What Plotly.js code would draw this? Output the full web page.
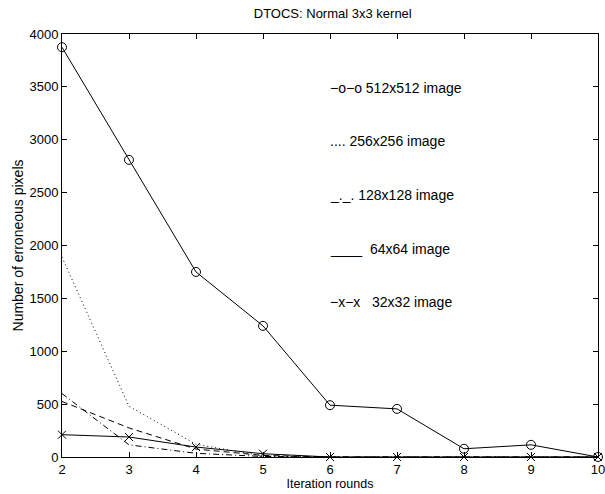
<!DOCTYPE html>
<html>
<head>
<meta charset="utf-8">
<script src="https://cdn.plot.ly/plotly-3.0.1.min.js"></script>
<style>
  html, body { margin: 0; padding: 0; background: #fff; }
  #chart { width: 605px; height: 494px; }
</style>
</head>
<body>
<div id="chart"></div>
<script>
// Iteration rounds on the x axis
const rounds = [2, 3, 4, 5, 6, 7, 8, 9, 10];

// Erroneous pixel counts per image size
const err512 = [3875, 2810, 1750, 1240, 490, 455, 78, 115, 0];
const err256 = [1890, 480, 120, 10, 0, 0, 0, 0, 0];
const err128 = [600, 115, 35, 5, 0, 0, 0, 0, 0];
const err64  = [525, 275, 75, 15, 0, 0, 0, 0, 0];
const err32  = [211, 189, 94, 31, 0, 0, 0, 0, 0];

// Legend lines written as plain text inside the plot
const legendLines = [
  "\u2212o\u2212o 512x512 image",
  ".... 256x256 image",
  "_._. 128x128 image",
  "____\u00a0 64x64 image",
  "\u2212x\u2212x\u00a0\u00a0 32x32 image"
];
const legendY = [0.872, 0.747, 0.620, 0.492, 0.367];

const FONT = "Liberation Sans, Arial, Helvetica, sans-serif";
const black = "#000";

function series(y, dash, marker, size) {
  const t = {
    x: rounds, y: y, type: "scatter",
    mode: marker ? "lines+markers" : "lines",
    line: { color: black, width: 1, dash: dash },
    cliponaxis: false,
    showlegend: false,
    hoverinfo: "x+y"
  };
  if (marker) {
    t.marker = { symbol: marker, size: size, color: black, line: { color: black, width: 1 } };
  }
  return t;
}

const traces = [
  series(err256, "1px,3px"),
  series(err128, "6px,3px,1px,3px"),
  series(err64, "6px,4px"),
  series(err32, "solid", "x-thin-open", 8),
  series(err512, "solid", "circle-open", 9)
];

const annotations = legendLines.map((txt, i) => ({
  xref: "paper", yref: "paper", x: 0.496, y: legendY[i],
  xanchor: "left", yanchor: "middle", showarrow: false,
  text: txt, font: { family: FONT, size: 14, color: black }
}));

const axisCommon = {
  showline: true, linecolor: black, linewidth: 1, mirror: "ticks",
  ticks: "inside", ticklen: 5, tickcolor: black, tickwidth: 1,
  showgrid: false, zeroline: false,
  tickfont: { family: FONT, size: 13, color: black }
};

const layout = {
  width: 605, height: 494,
  margin: { l: 62, r: 7, t: 34, b: 37 },
  paper_bgcolor: "#fff", plot_bgcolor: "#fff",
  title: { text: "DTOCS: Normal 3x3 kernel", x: 0.55, xanchor: "center", y: 0.973, yanchor: "middle",
           font: { family: FONT, size: 13, color: black } },
  xaxis: Object.assign({}, axisCommon, {
    range: [2, 10], tickvals: rounds, ticktext: rounds.map(String),
    ticklabeloverflow: "allow",
    title: { text: "Iteration rounds", standoff: 2, font: { family: FONT, size: 12.5, color: black } }
  }),
  yaxis: Object.assign({}, axisCommon, {
    range: [0, 4000], dtick: 500, tick0: 0,
    title: { text: "Number of erroneous pixels", standoff: 2, font: { family: FONT, size: 14, color: black } }
  }),
  annotations: annotations
};

Plotly.newPlot("chart", traces, layout, { displayModeBar: false, staticPlot: true });
</script>
</body>
</html>
